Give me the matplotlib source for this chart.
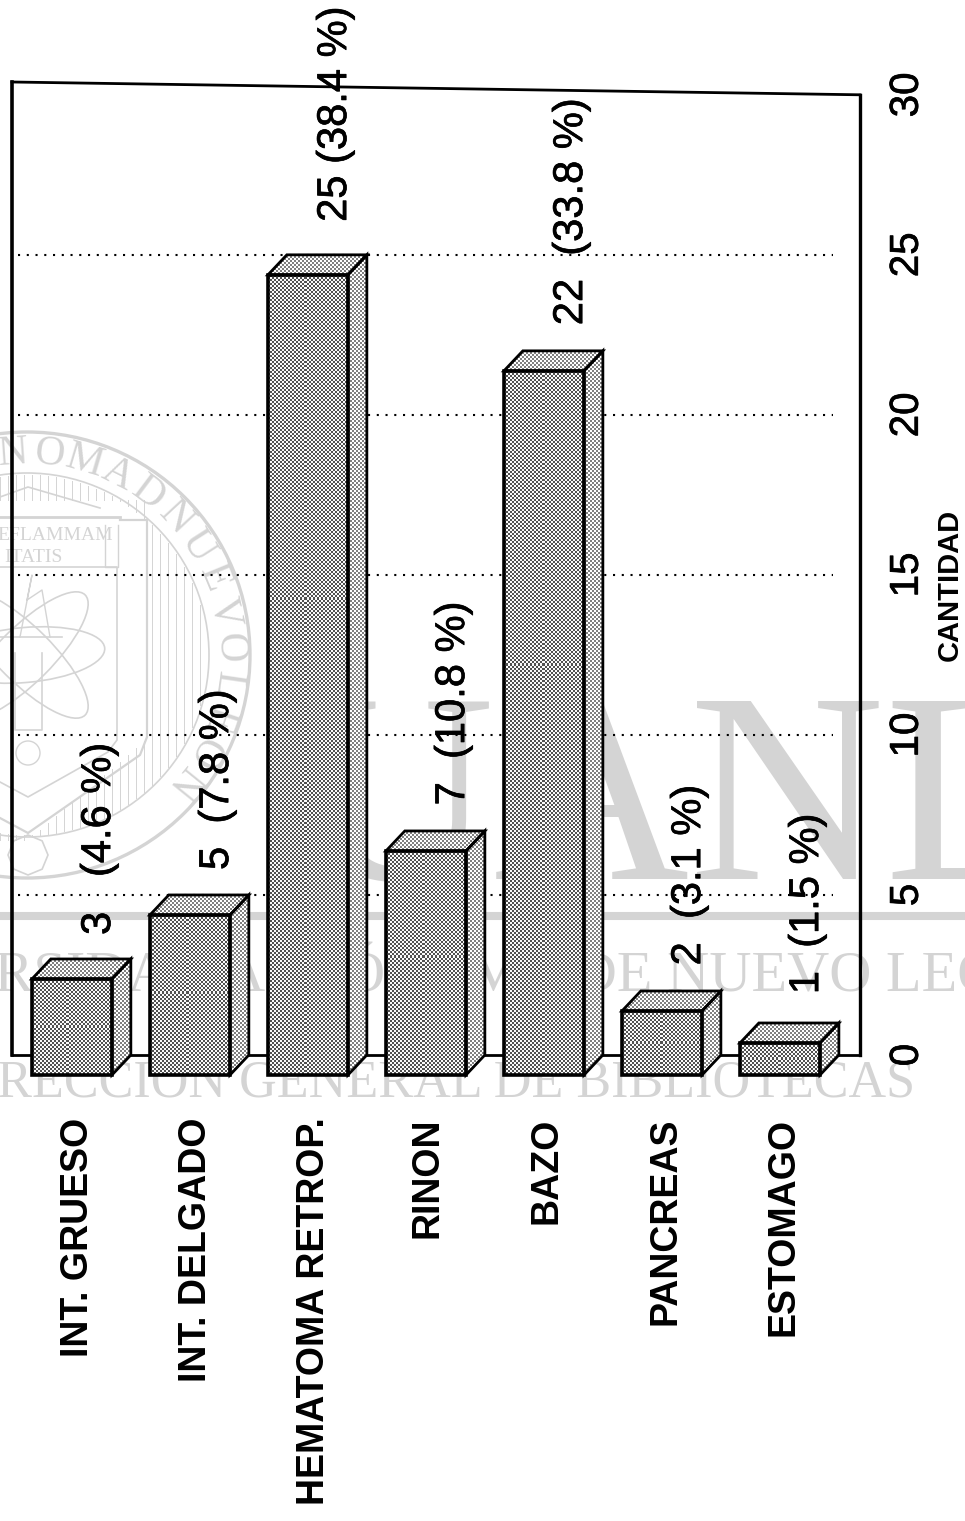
import numpy as np
import matplotlib
matplotlib.use('Agg')
import matplotlib.pyplot as plt
import matplotlib.patheffects as pe
from matplotlib.patches import Polygon, Circle, Ellipse, RegularPolygon

categories = ['INT. GRUESO', 'INT. DELGADO', 'HEMATOMA RETROP.', 'RINON', 'BAZO', 'PANCREAS', 'ESTOMAGO']
values = [3, 5, 25, 7, 22, 2, 1]
value_labels = ['3   (4.6 %)', '5  (7.8 %)', '25 (38.4 %)', '7  (10.8 %)', '22  (33.8 %)', '2  (3.1 %)', '1  (1.5 %)']
ticks = [0, 5, 10, 15, 20, 25, 30]
arc_letters = 'NOMADNUEVOLEON'

W, H = 965, 1521
GRAY = '#d4d4d4'
plt.rcParams['font.family'] = ['Liberation Sans', 'DejaVu Sans']

fig = plt.figure(figsize=(W / 100, H / 100), dpi=100)

# scanned watermark, in pixel coords of the page
bg = fig.add_axes([0, 0, 1, 1])
bg.set_xlim(0, W)
bg.set_ylim(H, 0)
bg.axis('off')
serif = ['Liberation Serif', 'DejaVu Serif']
bg.text(298, 879, 'UANL', family=serif, fontsize=195, color=GRAY, clip_on=True)
bg.plot([0, W], [916, 916], color=GRAY, lw=5.8, solid_capstyle='butt')
bg.text(-187, 992, 'UNIVERSIDAD AUTÓNOMA DE NUEVO LEÓN', family=serif, fontsize=42, color=GRAY, clip_on=True)
bg.text(915, 1097, 'DIRECCIÓN GENERAL DE BIBLIOTECAS', family=serif, fontsize=37.5, color=GRAY, ha='right', clip_on=True)

# crest
cx, cy = 27, 655
for r, lw in [(223, 2.4), (182, 1.2)]:
    bg.add_patch(Circle((cx, cy), r, fill=False, ec=GRAY, lw=lw))
for i, ch in enumerate(arc_letters):
    a = np.radians(-4 + 10.23 * i)
    bg.text(cx + 202 * np.sin(a), cy - 202 * np.cos(a), ch, family=serif, fontsize=30, color=GRAY,
            rotation=-np.degrees(a), rotation_mode='anchor', ha='center', va='center')
for xl in np.arange(0, 205, 8):
    d = np.sqrt(180 ** 2 - (xl - cx) ** 2)
    top = cy - d
    if xl < 147:
        bg.plot([xl, xl], [top, 500], color=GRAY, lw=0.7)
        bottom = cy + d
        bg.plot([xl, xl], [840 if xl < 28 else 840 - (xl - 28) * 0.85, bottom], color=GRAY, lw=0.7)
    else:
        bg.plot([xl, xl], [top, cy + d], color=GRAY, lw=0.7)
bg.plot([0, 28, 100], [497, 487, 508], color=GRAY, lw=1.2)
bg.plot([0, 120], [517, 517], color=GRAY, lw=2)
bg.plot([105, 105, 118, 118], [525, 567, 567, 525], color=GRAY, lw=1)
bg.plot([120, 147, 147, 140, 28, 0], [520, 520, 737, 755, 833, 818], color=GRAY, lw=1.6)
bg.plot([0, 117, 117, 108, 28, 0], [567, 567, 740, 752, 797, 782], color=GRAY, lw=1.2)
bg.text(-3, 540, 'EFLAMMAM', family=serif, fontsize=14, color=GRAY)
bg.text(4, 562, 'ITATIS', family=serif, fontsize=14, color=GRAY)
for ang, a_len in [(45, 170), (-45, 170), (-5, 160)]:
    bg.add_patch(Ellipse((25, 655), a_len, 55, angle=ang, fill=False, ec=GRAY, lw=1.2))
bg.plot([15, 15, 42, 42], [653, 730, 730, 653], color=GRAY, lw=1.2)
bg.plot([0, 62], [637, 637], color=GRAY, lw=1.2)
bg.plot([20, 32, 27, 42, 50], [637, 575, 600, 590, 637], color=GRAY, lw=1)
bg.add_patch(Circle((28, 753), 12, fill=False, ec=GRAY, lw=1))
bg.add_patch(RegularPolygon((28, 855), 8, radius=20, fill=False, ec=GRAY, lw=1.2))

# main chart
ax = fig.add_axes([12 / W, 1 - 1087 / H, 848 / W, 1005 / H])
ax.patch.set_visible(False)
ax.set_xlim(-0.508, 6.678)
ax.set_ylim(-1, 30.4)
for s in ax.spines.values():
    s.set_visible(False)

x = np.arange(len(values))
w = 0.678
dx = 0.16
dy = 0.625

# grid stops short of the frame
for t in ticks[1:-1]:
    ax.plot([-0.46, 6.45], [t, t], color='black', lw=1.5, ls=(0, (1, 3.2)), zorder=1)

# frame, top edge is a bit skewed in the scan
ax.plot([-0.508, -0.508], [0, 30.4], color='black', lw=2.6, zorder=2, clip_on=False)
ax.plot([-0.508, 6.678], [30.4, 30], color='black', lw=2, zorder=2, clip_on=False)
ax.plot([6.678, 6.678], [0, 30], color='black', lw=2.4, zorder=2, clip_on=False)
ax.plot([-0.508, 6.678], [0, 0], color='black', lw=2, zorder=2, clip_on=False)

# halftone texture for the bars
yy, xx = np.mgrid[0:1005, 0:848]
checker = ((xx // 2 + yy // 2) % 2).astype(float)
front_tex = 0.32 + 0.66 * checker
side_tex = 0.5 + 0.5 * checker
extent = (-0.508, 6.678, -1, 30.4)

bars = ax.bar(x, values, width=w, bottom=-dy, facecolor='none', edgecolor='black', lw=2.6, zorder=5)
for xi, v, b in zip(x, values, bars):
    l, r = xi - w / 2, xi + w / 2
    top = v - dy
    side = Polygon([(r, -dy), (r + dx, 0), (r + dx, v), (r, top)], closed=True, fc='none', ec='black', lw=2, zorder=5)
    cap = Polygon([(l, top), (l + dx, v), (r + dx, v), (r, top)], closed=True, fc='none', ec='black', lw=2, zorder=5)
    ax.add_patch(side)
    ax.add_patch(cap)
    for patch, tex in [(b, front_tex), (side, side_tex), (cap, side_tex)]:
        im = ax.imshow(tex, extent=extent, cmap='gray', vmin=0, vmax=1, aspect='auto',
                       interpolation='nearest', zorder=4)
        im.set_clip_path(patch)

heavy = [pe.withStroke(linewidth=0.5, foreground='black')]
label_gap = [0.75, 0.78, 1.03, 0.8, 0.8, 0.8, 0.9]
for xi, v, lab, g in zip(x, values, value_labels, label_gap):
    ax.text(xi + 0.23, v + g, lab, rotation=90, ha='center', va='bottom', fontsize=30, color='black',
            zorder=6, path_effects=heavy)

ax.set_xlim(-0.508, 6.678)
ax.set_ylim(-1, 30.4)
ax.set_xticks(x + np.array([0.05, 0.05, 0.05, 0.01, 0.02, 0.03, 0.03]))
ax.set_xticklabels(categories, rotation=90, fontsize=27, fontweight='bold', va='top', ha='center')
ax.yaxis.tick_right()
ax.set_yticks(ticks)
ax.set_yticklabels([str(t) for t in ticks], rotation=90, va='center', fontsize=29, color='black', path_effects=heavy)
ax.tick_params(axis='x', length=0, pad=22)
ax.tick_params(axis='y', length=0, pad=20)

fig.text(950 / W, 1 - 585 / H, 'CANTIDAD', rotation=90, ha='center', va='center', fontsize=21, fontweight='bold')

fig.savefig('out.png', dpi=100)
